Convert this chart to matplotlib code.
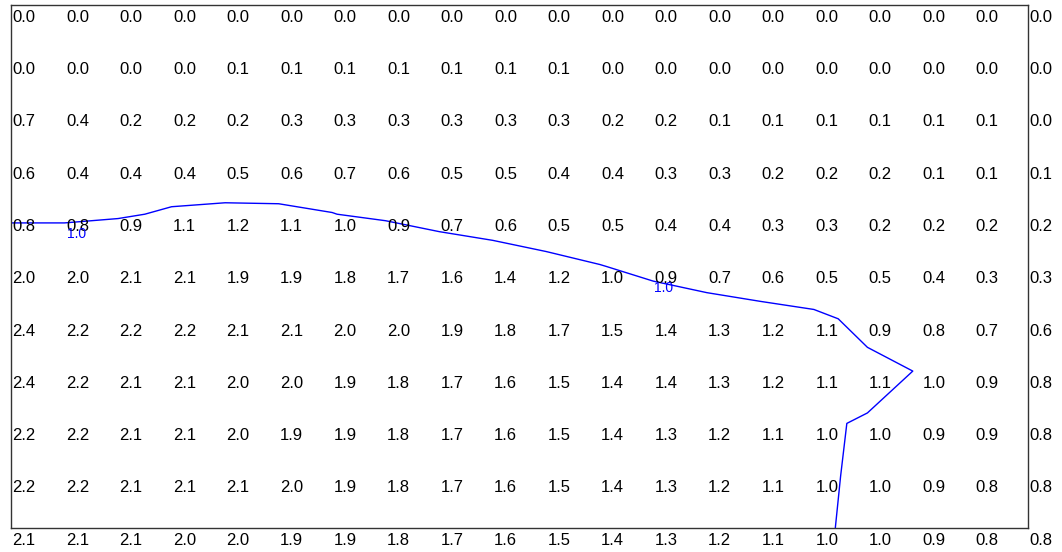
import numpy as np
import matplotlib
matplotlib.use("Agg")
import matplotlib.pyplot as plt

plt.rcParams['font.family'] = ['Liberation Sans', 'DejaVu Sans']

# Grid values (rows top to bottom, columns left to right)
row0 = [0.0]*20
row1 = [0.0, 0.0, 0.0, 0.0, 0.1, 0.1, 0.1, 0.1, 0.1, 0.1, 0.1, 0.0, 0.0, 0.0, 0.0, 0.0, 0.0, 0.0, 0.0, 0.0]
row2 = [0.7, 0.4, 0.2, 0.2, 0.2, 0.3, 0.3, 0.3, 0.3, 0.3, 0.3, 0.2, 0.2, 0.1, 0.1, 0.1, 0.1, 0.1, 0.1, 0.0]
row3 = [0.6, 0.4, 0.4, 0.4, 0.46, 0.6, 0.7, 0.6, 0.5, 0.5, 0.4, 0.4, 0.3, 0.3, 0.2, 0.2, 0.2, 0.1, 0.1, 0.1]
row4 = [0.8, 0.8, 0.9, 1.1, 1.151, 1.1, 1.01, 0.9, 0.7, 0.6, 0.5, 0.5, 0.4, 0.4, 0.3, 0.3, 0.2, 0.2, 0.2, 0.2]
row5 = [2.0, 2.0, 2.1, 2.1, 1.9, 1.9, 1.8, 1.7, 1.6, 1.4, 1.2, 1.02, 0.86, 0.7, 0.6, 0.54, 0.5, 0.4, 0.3, 0.3]
row6 = [2.4, 2.2, 2.2, 2.2, 2.1, 2.1, 2.0, 2.0, 1.9, 1.8, 1.7, 1.5, 1.36, 1.3, 1.2, 1.1, 0.88, 0.8, 0.7, 0.6]
row7 = [2.4, 2.2, 2.1, 2.1, 2.0, 2.0, 1.9, 1.8, 1.7, 1.6, 1.5, 1.4, 1.4, 1.3, 1.2, 1.1, 1.1, 0.982, 0.9, 0.8]
row8 = [2.2, 2.2, 2.1, 2.1, 2.0, 1.9, 1.9, 1.8, 1.7, 1.6, 1.5, 1.4, 1.3, 1.2, 1.1, 1.04, 0.975, 0.9, 0.9, 0.8]
row9 = [2.2, 2.2, 2.1, 2.1, 2.1, 2.0, 1.9, 1.8, 1.7, 1.6, 1.5, 1.4, 1.3, 1.2, 1.1, 1.04, 0.96, 0.9, 0.8, 0.8]
row10 = [2.1, 2.1, 2.1, 2.0, 2.0, 1.9, 1.9, 1.8, 1.7, 1.6, 1.5, 1.4, 1.3, 1.2, 1.1, 1.03, 0.955, 0.9, 0.8, 0.8]

contour_levels = [1.0]
label_points = [(1.23, 4.37), (12.19, 5.42)]

Z = np.array([row0, row1, row2, row3, row4, row5, row6, row7, row8, row9, row10])
nrows, ncols = Z.shape

W, H = 1062, 552
fig = plt.figure(figsize=(W/100, H/100), dpi=100)
ax = fig.add_axes([11/W, (H-528)/H, (1028-11)/W, (528-5)/H])

ax.set_xlim(0, ncols-1)
ax.set_ylim(nrows-1, 0)
ax.set_xticks([])
ax.set_yticks([])
for s in ax.spines.values():
    s.set_color('#333333')
    s.set_linewidth(1.0)

for i in range(nrows):
    for j in range(ncols):
        ax.annotate(f"{Z[i, j]:.1f}", (j, i), xytext=(1, -8.8), textcoords='offset points',
                    ha='left', va='center', fontsize=12, color='black',
                    annotation_clip=False)

X, Y = np.meshgrid(np.arange(ncols), np.arange(nrows))
cs = ax.contour(X, Y, Z, levels=contour_levels, colors='#0000ff', linewidths=1.0)
for (lx, ly) in label_points:
    ax.text(lx, ly, f"{contour_levels[0]:.1f}", color='#0000ff', fontsize=10,
            ha='center', va='center')

fig.savefig('out.png', dpi=100)
